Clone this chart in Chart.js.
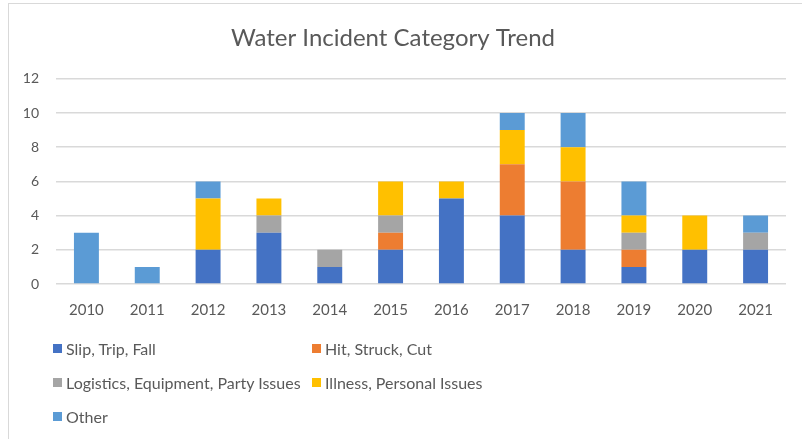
<!DOCTYPE html>
<html>
<head>
<meta charset="utf-8">
<script src="https://cdn.jsdelivr.net/npm/chart.js@4.4.0/dist/chart.umd.min.js"></script>
<style>
body{margin:0;background:#fff;font-family:Lato,sans-serif;}
#wrap{position:relative;width:802px;height:439px;overflow:hidden;}
#frame{position:absolute;left:8px;top:3px;right:-2px;bottom:-2px;border-top:1px solid #d9d9d9;border-left:1px solid #d9d9d9;}
#c{position:absolute;left:0;top:0;}
#legend{position:absolute;left:53px;top:338px;display:grid;grid-template-columns:259px 260px;row-gap:13px;font-size:16px;color:#595959;}
#legend div{display:flex;align-items:center;height:21px;}
#legend span{display:inline-block;width:9px;height:9px;margin-right:4px;}
</style>
</head>
<body>
<div id="wrap">
<div id="frame"></div>
<canvas id="c" width="802" height="439"></canvas>
<div id="legend"></div>
</div>
<script>
// data
var years = ['2010','2011','2012','2013','2014','2015','2016','2017','2018','2019','2020','2021'];
var slipTripFall = [0,0,2,3,1,2,5,4,2,1,2,2];
var hitStruckCut = [0,0,0,0,0,1,0,3,4,1,0,0];
var logistics    = [0,0,0,1,1,1,0,0,0,1,0,1];
var illness      = [0,0,3,1,0,2,1,2,2,1,2,0];
var other        = [3,1,1,0,0,0,0,1,2,2,0,1];
var seriesNames = ['Slip, Trip, Fall','Hit, Struck, Cut','Logistics, Equipment, Party Issues','Illness, Personal Issues','Other'];
var colors = ['#4472C4','#ED7D31','#A5A5A5','#FFC000','#5B9BD5'];
var yTicks = [0,2,4,6,8,10,12];

var vals = [slipTripFall,hitStruckCut,logistics,illness,other];
var ds = [];
for (var i=0;i<vals.length;i++){
  ds.push({label:seriesNames[i],data:vals[i],backgroundColor:colors[i],borderWidth:0,
    barPercentage:0.41,categoryPercentage:1});
}

var chart = new Chart(document.getElementById('c'),{
  type:'bar',
  data:{labels:years,datasets:ds},
  options:{
    responsive:false,
    animation:false,
    layout:{padding:{left:0,right:16,top:0,bottom:111}},
    plugins:{
      legend:{display:false},
      tooltip:{enabled:false},
      title:{display:true,text:'Water Incident Category Trend',color:'#595959',
        font:{family:'Lato',size:24,weight:'normal'},padding:{top:24,bottom:26}}
    },
    scales:{
      x:{stacked:true,grid:{display:false},border:{display:false},
        ticks:{color:'#595959',font:{family:'Lato',size:15},padding:9}},
      y:{stacked:true,min:0,max:12,
        afterFit:function(s){s.width=56;},
        afterBuildTicks:function(s){s.ticks=yTicks.map(function(v){return {value:v};});},
        grid:{color:'#d9d9d9',lineWidth:1.5,drawTicks:false},border:{display:false},
        ticks:{color:'#595959',font:{family:'Lato',size:14},padding:17}}
    }
  }
});

// html legend in two columns, same as the picture
var lg = document.getElementById('legend');
chart.data.datasets.forEach(function(d){
  var el = document.createElement('div');
  el.innerHTML = '<span style="background:'+d.backgroundColor+'"></span>'+d.label;
  lg.appendChild(el);
});
</script>
</body>
</html>
